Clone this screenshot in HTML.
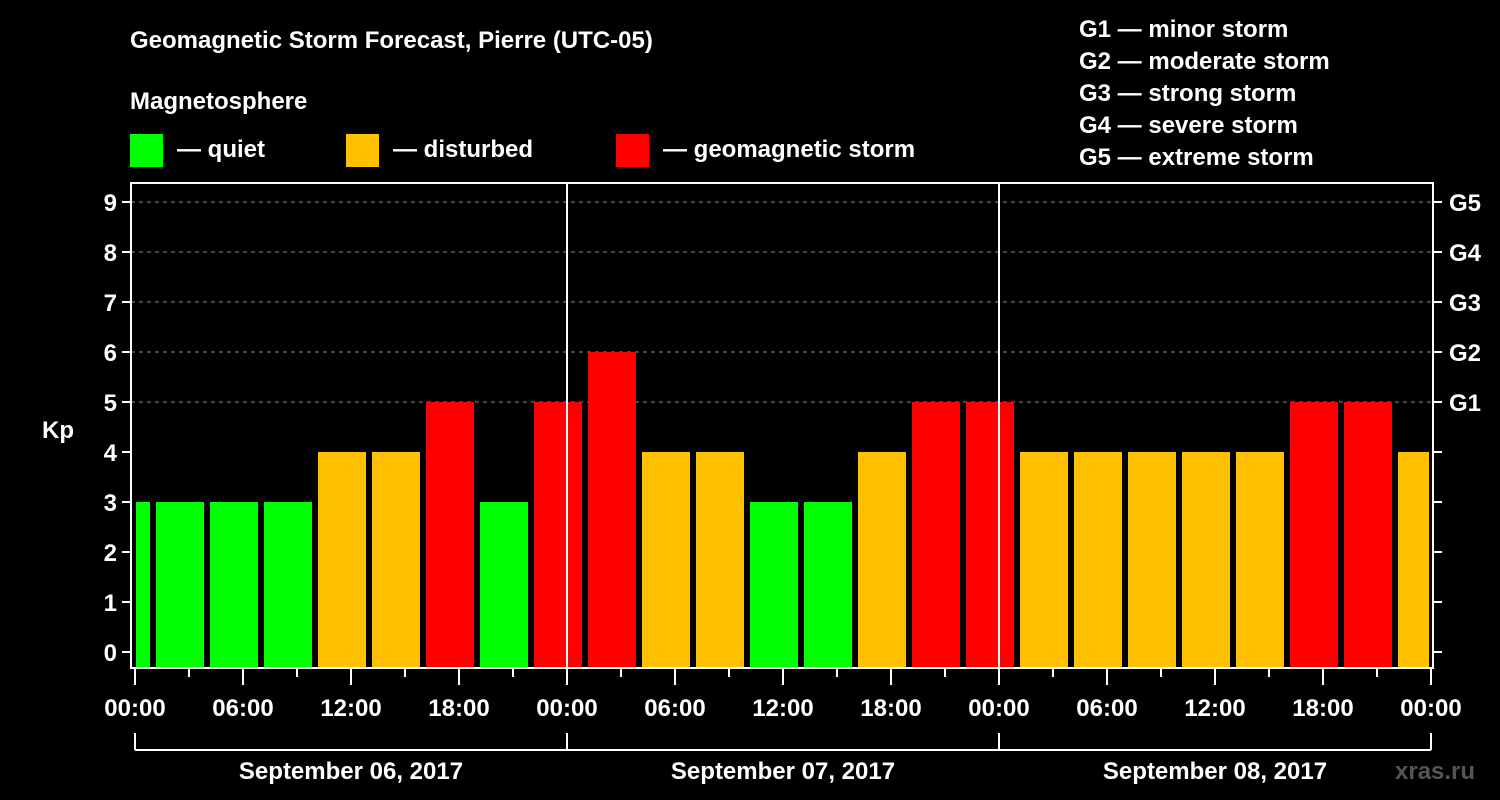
<!DOCTYPE html>
<html><head><meta charset="utf-8"><style>
html,body{margin:0;padding:0;background:#000;}
svg{display:block;font-family:"Liberation Sans",Arial,sans-serif;font-weight:bold;}
</style></head><body>
<svg width="1500" height="800" viewBox="0 0 1500 800" xmlns="http://www.w3.org/2000/svg">
<rect width="1500" height="800" fill="#000"/>
<g fill="#fff" font-size="24">
<text x="130" y="48">Geomagnetic Storm Forecast, Pierre (UTC-05)</text>
<text x="130" y="109">Magnetosphere</text>
<rect x="130" y="134" width="33" height="33" fill="#00ff00"/>
<text x="177" y="157">— quiet</text>
<rect x="346" y="134" width="33" height="33" fill="#ffc000"/>
<text x="393" y="157">— disturbed</text>
<rect x="616" y="134" width="33" height="33" fill="#ff0000"/>
<text x="663" y="157">— geomagnetic storm</text>
<text x="1079" y="37">G1 — minor storm</text>
<text x="1079" y="69">G2 — moderate storm</text>
<text x="1079" y="101">G3 — strong storm</text>
<text x="1079" y="133">G4 — severe storm</text>
<text x="1079" y="165">G5 — extreme storm</text>
<text x="42" y="438">Kp</text>
<text x="1395" y="779" fill="#555">xras.ru</text>
</g>
<g id="grid"></g>
<g id="bars"></g>
<g id="axes"></g>
</svg>
<script>
const kpValues=[3,3,3,3,4,4,5,3,5,6,4,4,3,3,4,5,5,4,4,4,4,4,5,5,4];
const yTicks=[0,1,2,3,4,5,6,7,8,9];
const gLabels=["","","","","","G1","G2","G3","G4","G5"];
const xTickLabels=["00:00","06:00","12:00","18:00","00:00","06:00","12:00","18:00","00:00","06:00","12:00","18:00","00:00"];
const dayLabels=["September 06, 2017","September 07, 2017","September 08, 2017"];
const firstBarStartHour=-2;
const NS="http://www.w3.org/2000/svg";
const L=131,R=1433,T=183,B=668,X0=135;
const xs=h=>X0+h*18;
const ys=v=>652-v*50;
function mk(tag,attrs,parent){const e=document.createElementNS(NS,tag);for(const k in attrs)e.setAttribute(k,attrs[k]);parent.appendChild(e);return e;}
const grid=document.getElementById('grid'),bars=document.getElementById('bars'),axes=document.getElementById('axes');
yTicks.forEach((v,i)=>{
  if(v>=5){const g=mk('line',{x1:L,x2:R,y1:ys(v),y2:ys(v),stroke:'#888','stroke-width':1,'stroke-dasharray':'4,4'},grid);
  
  }
  const t=mk('line',{x1:L-9,x2:L,y1:ys(v),y2:ys(v),stroke:'#fff','stroke-width':2},axes);
  
  
  const t2=mk('line',{x1:R,x2:R+9,y1:ys(v),y2:ys(v),stroke:'#fff','stroke-width':2},axes);
  
  
  const lb=mk('text',{x:L-14,y:ys(v)+9,fill:'#fff','font-size':24,'text-anchor':'end'},axes);lb.textContent=v;
  
  
  if(gLabels[i]){const gl=mk('text',{x:1449,y:ys(v)+9,fill:'#fff','font-size':24},axes);gl.textContent=gLabels[i];
  
  }
});
kpValues.forEach((v,i)=>{
  let x1=xs(firstBarStartHour+i*3)+3,x2=xs(firstBarStartHour+i*3+3)-3;
  x1=Math.max(x1,X0+1);x2=Math.min(x2,R-4);
  const c=v>=5?'#ff0000':(v>=4?'#ffc000':'#00ff00');
  const r=mk('rect',{x:x1,y:ys(v),width:x2-x1,height:B-ys(v),fill:c},bars);
  
  
});
[1,2].forEach(d=>{const l=mk('line',{x1:xs(d*24),x2:xs(d*24),y1:T,y2:B,stroke:'#fff','stroke-width':2},axes);

});
const fr=mk('rect',{x:L,y:T,width:R-L,height:B-T,fill:'none',stroke:'#fff','stroke-width':2},axes);


for(let h=0;h<=72;h+=3){
  const major=h%6===0;
  const tk=mk('line',{x1:xs(h),x2:xs(h),y1:B,y2:B+(major?17:9),stroke:'#fff','stroke-width':2},axes);
  
  
}
xTickLabels.forEach((s,i)=>{const t=mk('text',{x:xs(i*6),y:716,fill:'#fff','font-size':24,'text-anchor':'middle'},axes);t.textContent=s;

});
mk('line',{x1:xs(0),x2:xs(72),y1:750,y2:750,stroke:'#fff','stroke-width':2},axes);
for(let d=0;d<=3;d++){const l=mk('line',{x1:xs(d*24),x2:xs(d*24),y1:733,y2:750,stroke:'#fff','stroke-width':2},axes);

}
dayLabels.forEach((s,i)=>{const t=mk('text',{x:xs(i*24+12),y:779,fill:'#fff','font-size':24,'text-anchor':'middle'},axes);t.textContent=s;

});
</script>
</body></html>
